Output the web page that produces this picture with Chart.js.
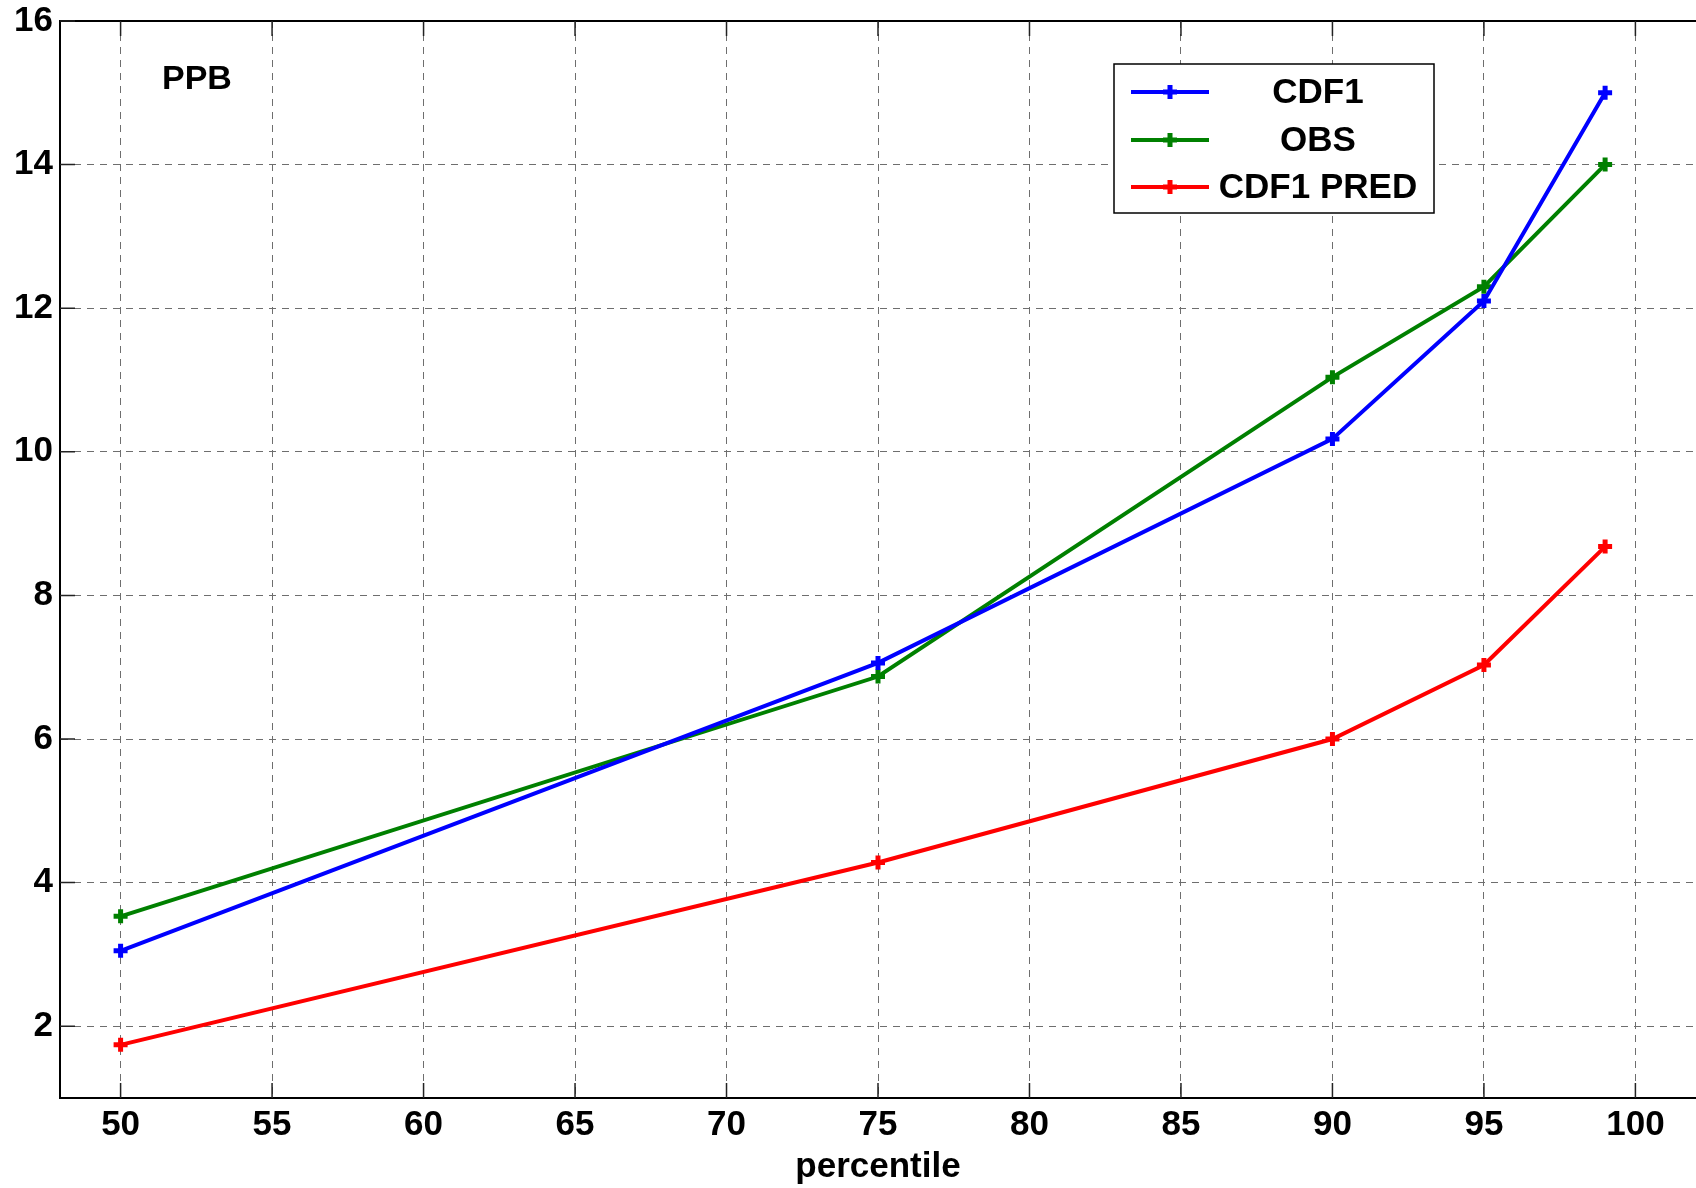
<!DOCTYPE html>
<html>
<head>
<meta charset="utf-8">
<script src="https://cdn.jsdelivr.net/npm/chart.js@4.4.0/dist/chart.umd.min.js"></script>
<style>
  html, body { margin: 0; padding: 0; background: #fff; }
  #wrap { width: 1696px; height: 1188px; position: relative; }
</style>
</head>
<body>
<div id="wrap"><canvas id="chart"></canvas></div>
<script>
// values
const percentiles = [50, 75, 90, 95, 99];
const cdf1 = [3.05, 7.06, 10.18, 12.1, 15.0];
const obs = [3.53, 6.87, 11.04, 12.3, 14.0];
const cdf1Pred = [1.74, 4.28, 6.0, 7.03, 8.68];
const xTicks = [50, 55, 60, 65, 70, 75, 80, 85, 90, 95, 100];
const yTicks = [2, 4, 6, 8, 10, 12, 14, 16];

const FONT = '"Liberation Sans", Arial, Helvetica, sans-serif';
const tickFont = { family: FONT, size: 35, weight: 'bold', lineHeight: 1.2 };

const toPts = (ys) => ys.map((y, i) => ({ x: percentiles[i], y }));

function series(label, data, color) {
  return {
    label, data: toPts(data),
    borderColor: color, backgroundColor: color, borderWidth: 4, tension: 0,
    pointStyle: 'cross', pointRadius: 7, pointBorderWidth: 5, pointBorderColor: color,
    pointHoverRadius: 7
  };
}

// frame, inner tick marks, legend box and the PPB note (MATLAB style)
const matlabDecor = {
  id: 'matlabDecor',
  afterDraw(chart) {
    const { ctx, chartArea: a, scales: { x, y } } = chart;
    ctx.save();
    ctx.strokeStyle = '#000';
    ctx.lineWidth = 2;
    ctx.beginPath();
    ctx.moveTo(a.left, a.top); ctx.lineTo(a.right, a.top);
    ctx.stroke();

    // inward ticks
    ctx.lineWidth = 1.5;
    ctx.strokeStyle = '#222';
    const tl = 15;
    ctx.beginPath();
    xTicks.forEach(v => {
      const px = x.getPixelForValue(v);
      ctx.moveTo(px, a.bottom); ctx.lineTo(px, a.bottom - tl);
      ctx.moveTo(px, a.top); ctx.lineTo(px, a.top + tl);
    });
    yTicks.forEach(v => {
      const py = y.getPixelForValue(v);
      ctx.moveTo(a.left, py); ctx.lineTo(a.left + tl, py);
    });
    ctx.stroke();

    // PPB label
    ctx.fillStyle = '#000';
    ctx.font = 'bold 34px ' + FONT;
    ctx.textBaseline = 'middle';
    ctx.textAlign = 'left';
    ctx.fillText('PPB', 162, 80);

    // legend
    const bx = 1114, by = 64, bw = 320, bh = 149;
    ctx.fillStyle = '#fff';
    ctx.fillRect(bx, by, bw, bh);
    ctx.strokeStyle = '#000';
    ctx.lineWidth = 1.5;
    ctx.strokeRect(bx, by, bw, bh);
    const rows = [92, 140, 187];
    ctx.font = 'bold 35px ' + FONT;
    ctx.textAlign = 'center';
    chart.data.datasets.forEach((ds, i) => {
      const ry = rows[i];
      ctx.strokeStyle = ds.borderColor;
      ctx.lineWidth = 4;
      ctx.beginPath();
      ctx.moveTo(1131, ry); ctx.lineTo(1209, ry);
      ctx.stroke();
      ctx.lineWidth = 5;
      ctx.beginPath();
      ctx.moveTo(1170, ry - 7); ctx.lineTo(1170, ry + 7);
      ctx.moveTo(1163, ry); ctx.lineTo(1177, ry);
      ctx.stroke();
      ctx.fillStyle = '#000';
      ctx.fillText(ds.label, 1318, ry + 1);
    });
    ctx.restore();
  }
};

new Chart(document.getElementById('chart'), {
  type: 'line',
  data: {
    datasets: [
      series('CDF1', cdf1, '#0000ff'),
      series('OBS', obs, '#008000'),
      series('CDF1 PRED', cdf1Pred, '#ff0000')
    ]
  },
  options: {
    responsive: true,
    maintainAspectRatio: false,
    animation: false,
    layout: { autoPadding: false, padding: { top: 0, right: 0, bottom: 0, left: 0 } },
    plugins: { legend: { display: false }, tooltip: { enabled: false } },
    scales: {
      x: {
        type: 'linear', min: 48, max: 102,
        afterBuildTicks: (s) => { s.ticks = xTicks.map(v => ({ value: v })); },
        afterFit: (s) => { s.height = 90; },
        ticks: { color: '#000', font: tickFont, padding: 6, maxRotation: 0, autoSkip: false },
        grid: { color: '#6e6e6e', lineWidth: 1, drawTicks: false },
        border: { display: true, color: '#000', width: 2, dash: [7, 6] },
        title: { display: true, text: 'percentile', color: '#000', font: tickFont, padding: { top: 0, bottom: 0 } }
      },
      y: {
        type: 'linear', min: 1, max: 16,
        afterBuildTicks: (s) => { s.ticks = yTicks.map(v => ({ value: v })); },
        afterFit: (s) => { s.width = 60; s.paddingTop = 21; },
        ticks: { color: '#000', font: tickFont, padding: 7, autoSkip: false },
        grid: { color: '#6e6e6e', lineWidth: 1, drawTicks: false },
        border: { display: true, color: '#000', width: 2, dash: [7, 6] }
      }
    }
  },
  plugins: [matlabDecor]
});
</script>
</body>
</html>
